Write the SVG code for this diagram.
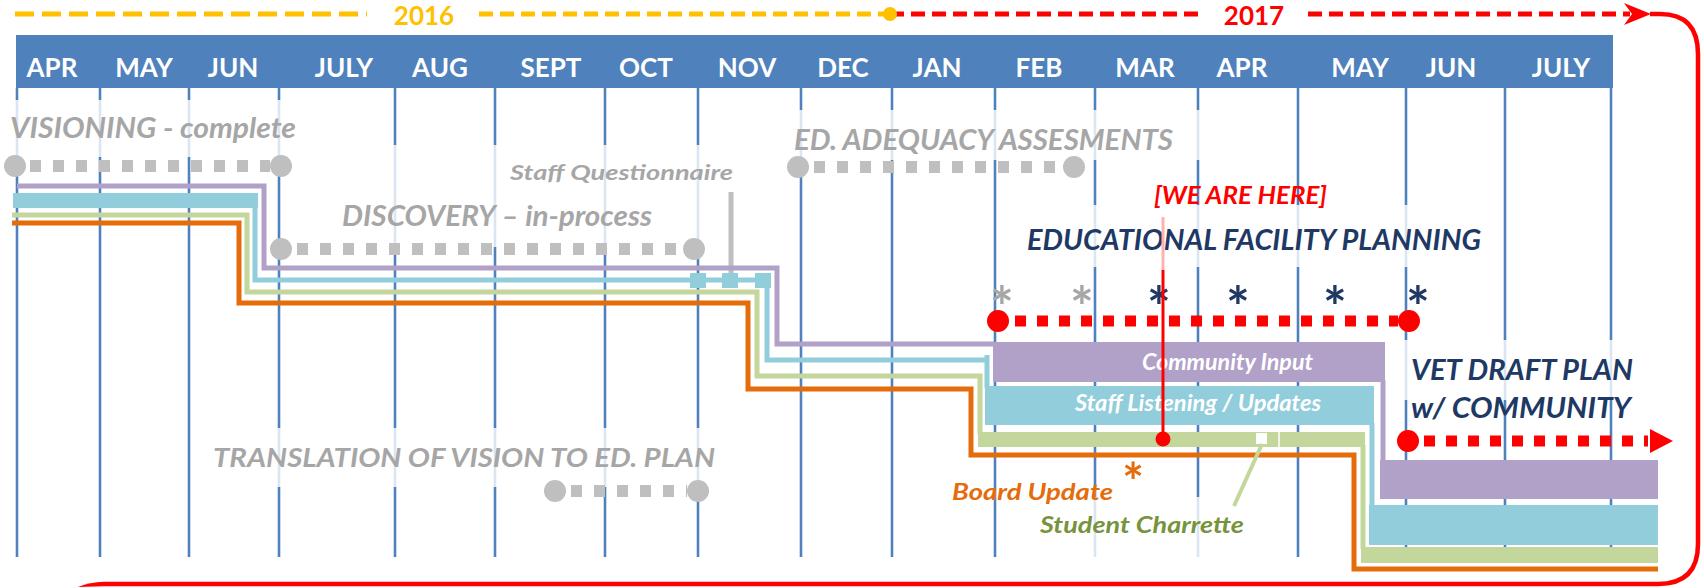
<svg xmlns="http://www.w3.org/2000/svg" width="1704" height="588" viewBox="0 0 1704 588">
<style>
text{font-family:Lato,"Open Sans","Liberation Sans",sans-serif;font-weight:bold}
.m{font-size:26px;fill:#fff;text-anchor:middle}
.gt{font-size:28px;font-style:italic;fill:#A6A6A6}
.nv{font-size:28px;font-style:italic;fill:#203864}
.wt{font-size:22px;font-style:italic;fill:#fff}
.yr{font-size:26px;text-anchor:middle}
.ast{font-size:56px;text-anchor:middle}
.grid line{stroke:#4F81BD;stroke-width:2.6}
.gdot{stroke:#BFBFBF;stroke-width:12;stroke-dasharray:11 12;fill:none}
.gc{fill:#BFBFBF}
.rdot{stroke:#FF0000;stroke-width:11;stroke-dasharray:11 11;fill:none}
.ln{fill:none;stroke-width:5}
.pu{stroke:#B1A0C7}.bl{stroke:#92CDDC}.gr{stroke:#C3D69B}.or{stroke:#E46C0A}
.fade{fill:#fff;opacity:0.8}
</style>
<rect width="1704" height="588" fill="#fff"/>

<g id="timeline-header">
<rect x="16" y="35" width="1597" height="53" fill="#4F81BD"/>
<text class="m" x="52" y="77">APR</text>
<text class="m" x="144" y="77">MAY</text>
<text class="m" x="233" y="77">JUN</text>
<text class="m" x="344" y="77">JULY</text>
<text class="m" x="440" y="77">AUG</text>
<text class="m" x="551" y="77">SEPT</text>
<text class="m" x="646" y="77">OCT</text>
<text class="m" x="747" y="77">NOV</text>
<text class="m" x="843" y="77">DEC</text>
<text class="m" x="937" y="77">JAN</text>
<text class="m" x="1039" y="77">FEB</text>
<text class="m" x="1145" y="77">MAR</text>
<text class="m" x="1242" y="77">APR</text>
<text class="m" x="1360" y="77">MAY</text>
<text class="m" x="1451" y="77">JUN</text>
<text class="m" x="1561" y="77">JULY</text>
</g>

<g id="grid" class="grid">
<line x1="17" y1="88" x2="17" y2="557"/>
<line x1="100" y1="88" x2="100" y2="557"/>
<line x1="189" y1="88" x2="189" y2="557"/>
<line x1="279" y1="88" x2="279" y2="557"/>
<line x1="395" y1="88" x2="395" y2="557"/>
<line x1="495" y1="88" x2="495" y2="557"/>
<line x1="605" y1="88" x2="605" y2="557"/>
<line x1="698" y1="88" x2="698" y2="557"/>
<line x1="801" y1="88" x2="801" y2="557"/>
<line x1="892" y1="88" x2="892" y2="557"/>
<line x1="995" y1="88" x2="995" y2="557"/>
<line x1="1095" y1="88" x2="1095" y2="557"/>
<line x1="1198" y1="88" x2="1198" y2="557"/>
<line x1="1298" y1="88" x2="1298" y2="557"/>
<line x1="1406" y1="88" x2="1406" y2="557"/>
<line x1="1505" y1="88" x2="1505" y2="557"/>
<line x1="1611" y1="88" x2="1611" y2="557"/>
</g>

<g id="text-backgrounds">
<rect class="fade" x="0" y="100" width="300" height="57"/>
<rect class="fade" x="330" y="145" width="400" height="102"/>
<rect class="fade" x="780" y="110" width="420" height="50"/>
<rect class="fade" x="1010" y="205" width="480" height="62"/>
<rect class="fade" x="1400" y="340" width="240" height="60"/>
<rect class="fade" x="205" y="428" width="515" height="59"/>
<rect class="fade" x="1030" y="497" width="220" height="60"/>
</g>

<g id="year-bar">
<line x1="15" y1="14" x2="367" y2="14" stroke="#FFC000" stroke-width="5" stroke-dasharray="19 8"/>
<text class="yr" x="424" y="25" fill="#FFC000">2016</text>
<line x1="479" y1="14" x2="890" y2="14" stroke="#FFC000" stroke-width="5" stroke-dasharray="14 7"/>
<line x1="890" y1="14" x2="1202" y2="14" stroke="#FF0000" stroke-width="5" stroke-dasharray="14 7"/>
<text class="yr" x="1254" y="25" fill="#FF0000">2017</text>
<line x1="1308" y1="14" x2="1630" y2="14" stroke="#FF0000" stroke-width="5" stroke-dasharray="14 7"/>
<circle cx="890" cy="14" r="7" fill="#FFC000"/>
<polygon points="1624,3 1651,14 1624,25 1632,14" fill="#FF0000"/>
<path d="M1650,14 L1660,14 Q1698,14 1698,54 L1698,544 Q1698,584 1658,584 L104,584" fill="none" stroke="#FF0000" stroke-width="4.5"/>
<path d="M78,587 Q90,582 104,581.8 L104,586.3 Z" fill="#FF0000"/>
</g>

<g id="visioning">
<text class="gt" x="10" y="138" textLength="286" lengthAdjust="spacingAndGlyphs">VISIONING - complete</text>
<line class="gdot" x1="30" y1="166" x2="270" y2="166"/>
<circle class="gc" cx="15" cy="166" r="11"/>
<circle class="gc" cx="281" cy="166" r="11"/>
</g>

<g id="staff-questionnaire">
<text x="510" y="180" font-size="21" font-style="italic" fill="#A6A6A6" textLength="223" lengthAdjust="spacingAndGlyphs">Staff Questionnaire</text>
<line x1="731" y1="192" x2="731" y2="275" stroke="#BFBFBF" stroke-width="5"/>
</g>

<g id="discovery">
<text class="gt" x="342" y="226" textLength="310" lengthAdjust="spacingAndGlyphs">DISCOVERY – in-process</text>
<line class="gdot" x1="297" y1="249" x2="683" y2="249"/>
<circle class="gc" cx="281" cy="249" r="11"/>
<circle class="gc" cx="694" cy="249" r="11"/>
</g>

<g id="ed-adequacy">
<text class="gt" x="794" y="150" textLength="379" lengthAdjust="spacingAndGlyphs">ED. ADEQUACY ASSESMENTS</text>
<line class="gdot" x1="814" y1="167" x2="1063" y2="167"/>
<circle class="gc" cx="798" cy="167" r="11"/>
<circle class="gc" cx="1074" cy="167" r="11"/>
</g>

<g id="translation">
<text x="213" y="467" font-size="26" font-style="italic" fill="#A6A6A6" textLength="502" lengthAdjust="spacingAndGlyphs">TRANSLATION OF VISION TO ED. PLAN</text>
<line class="gdot" x1="571" y1="491" x2="687" y2="491"/>
<circle class="gc" cx="555" cy="491" r="11"/>
<circle class="gc" cx="698" cy="491" r="11"/>
</g>

<g id="connectors">
<polyline class="ln pu" points="17,186 264,186 264,268 777,268 777,344 995,344"/>
<rect x="13" y="193" width="245" height="15" fill="#92CDDC"/>
<polyline class="ln bl" points="255,207 255,280 767,280 767,360 987,360 987,355 987,388"/>
<rect x="690" y="273" width="16" height="15" fill="#92CDDC"/>
<rect x="722" y="273" width="16" height="15" fill="#92CDDC"/>
<rect x="755" y="273" width="16" height="15" fill="#92CDDC"/>
<polyline class="ln gr" points="12,215 247,215 247,292 757,292 757,376 980,376 980,434"/>
<polyline class="ln or" points="12,223 239,223 239,303 748,303 748,389 971,389 971,455 1354,455 1354,569 1658,569"/>
<rect x="978" y="432" width="387" height="15" fill="#C3D69B"/>
<rect x="1256" y="433" width="11" height="11" fill="#fff"/>
<line x1="1279" y1="432" x2="1279" y2="447" stroke="#fff" stroke-width="1.5"/>
<line class="ln pu" x1="1383" y1="380" x2="1383" y2="462"/>
<line class="ln bl" x1="1372" y1="423" x2="1372" y2="507"/>
<line class="ln gr" x1="1363" y1="445" x2="1363" y2="549"/>
<line x1="1262" y1="444" x2="1234" y2="506" stroke="#C3D69B" stroke-width="4"/>
</g>

<g id="community-input">
<rect x="993" y="342" width="392" height="40" fill="#B1A0C7"/>
<text class="wt" x="1142" y="370" textLength="171" lengthAdjust="spacingAndGlyphs">Community Input</text>
</g>

<g id="staff-listening">
<rect x="985" y="386" width="389" height="39" fill="#92CDDC"/>
<text class="wt" x="1075" y="411" textLength="246" lengthAdjust="spacingAndGlyphs">Staff Listening / Updates</text>
</g>

<g id="final-bars">
<rect x="1380" y="460" width="278" height="39" fill="#B1A0C7"/>
<rect x="1369" y="505" width="289" height="40" fill="#92CDDC"/>
<rect x="1361" y="547" width="297" height="16" fill="#C3D69B"/>
</g>

<g id="educational-facility-planning">
<text class="nv" x="1027" y="250" textLength="454" lengthAdjust="spacingAndGlyphs">EDUCATIONAL FACILITY PLANNING</text>
<text class="ast" x="1002" y="327" fill="#A6A6A6">*</text>
<text class="ast" x="1082" y="327" fill="#A6A6A6">*</text>
<text class="ast" x="1159" y="327" fill="#203864">*</text>
<text class="ast" x="1238" y="327" fill="#203864">*</text>
<text class="ast" x="1335" y="327" fill="#203864">*</text>
<text class="ast" x="1418" y="327" fill="#203864">*</text>
<line class="rdot" x1="1015" y1="321" x2="1398" y2="321"/>
<circle cx="998" cy="321" r="11" fill="#FF0000"/>
<circle cx="1409" cy="321" r="11" fill="#FF0000"/>
</g>

<g id="we-are-here">
<text x="1154" y="204" font-size="24" font-style="italic" fill="#FF0000" textLength="173" lengthAdjust="spacingAndGlyphs">[WE ARE HERE]</text>
<line x1="1163" y1="217" x2="1163" y2="270" stroke="#FFB0B0" stroke-width="3"/>
<line x1="1163" y1="270" x2="1163" y2="439" stroke="#FF0000" stroke-width="3"/>
<circle cx="1163" cy="439" r="7.5" fill="#FF0000"/>
</g>

<g id="vet-draft-plan">
<text class="nv" x="1411" y="380" textLength="222" lengthAdjust="spacingAndGlyphs">VET DRAFT PLAN</text>
<text class="nv" x="1411" y="418" textLength="220" lengthAdjust="spacingAndGlyphs">w/ COMMUNITY</text>
<line class="rdot" x1="1424" y1="441" x2="1648" y2="441"/>
<circle cx="1408" cy="441" r="11" fill="#FF0000"/>
<polygon points="1650,429 1673,441 1650,453" fill="#FF0000"/>
</g>

<g id="board-update">
<text x="1133" y="501" font-size="51" fill="#E46C0A" text-anchor="middle">*</text>
<text x="952" y="500" font-size="23" font-style="italic" fill="#E46C0A" textLength="161" lengthAdjust="spacingAndGlyphs">Board Update</text>
</g>

<g id="student-charrette">
<text x="1040" y="533" font-size="23" font-style="italic" fill="#77933C" textLength="204" lengthAdjust="spacingAndGlyphs">Student Charrette</text>
</g>
</svg>
